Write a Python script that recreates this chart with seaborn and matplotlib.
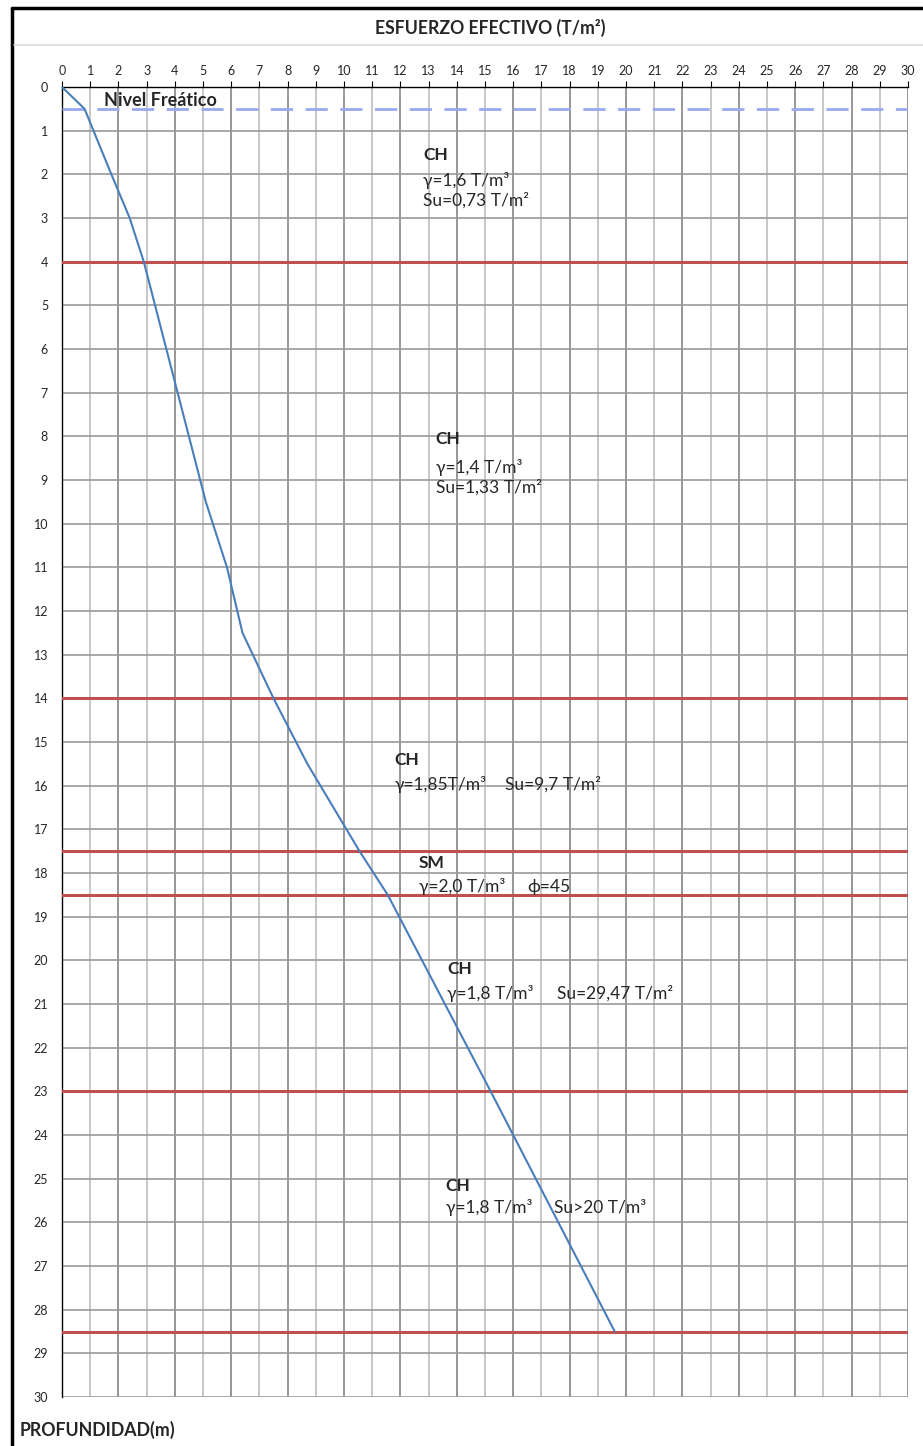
import matplotlib
matplotlib.use("Agg")
import matplotlib.pyplot as plt
from matplotlib.lines import Line2D
import seaborn as sns

# effective stress profile (T/m2) vs depth (m)
depth = [0, 0.5, 2.0, 3.0, 4.0, 9.5, 11.0, 12.5, 14.0, 15.5, 17.5, 18.5, 23.0, 28.5]
stress = [0, 0.8, 1.75, 2.4, 2.9, 5.1, 5.85, 6.4, 7.5, 8.7, 10.55, 11.55, 15.2, 19.6]

water_table = 0.5
layer_bounds = [4, 14, 17.5, 18.5, 23, 28.5]

# soil layer notes: x, title y, title, description pieces (text, x, y)
note_x = [12.8, 13.25, 11.8, 12.65, 13.65, 13.6]
note_title_y = [1.56, 8.05, 15.41, 17.77, 20.2, 25.17]
note_titles = ["CH", "CH", "CH", "SM", "CH", "CH"]
note_pieces = [
    [("γ=1,6 T/m³", 12.8, 2.13), ("Su=0,73 T/m²", 12.8, 2.59)],
    [("γ=1,4 T/m³", 13.25, 8.72), ("Su=1,33 T/m²", 13.25, 9.16)],
    [("γ=1,85T/m³", 11.8, 15.98), ("Su=9,7 T/m²", 15.7, 15.98)],
    [("γ=2,0 T/m³", 12.65, 18.32), ("ϕ=45", 16.5, 18.32)],
    [("γ=1,8 T/m³", 13.65, 20.75), ("Su=29,47 T/m²", 17.55, 20.75)],
    [("γ=1,8 T/m³", 13.6, 25.67), ("Su>20 T/m³", 17.45, 25.67)],
]

sns.set_style("white")
plt.rcParams["font.family"] = ["Lato", "DejaVu Sans"]

fig = plt.figure(figsize=(9.23, 14.46), dpi=100)
ax = fig.add_axes([62 / 923, 1 - 1397 / 1446, 846 / 923, 1310 / 1446])

# layer boundaries
for b in layer_bounds:
    ax.axhline(b, color="#c0504d", lw=2.2, zorder=3)

# water table
ax.axhline(water_table, color="#99a9f0", lw=2.0, ls=(0, (8, 4.5)), zorder=3)
ax.text(1.5, 0.3, "Nivel Freático", fontsize=13, fontweight="bold",
        va="center", ha="left", zorder=4)

sns.lineplot(x=stress, y=depth, sort=False, ax=ax, color="#4a7ebb", lw=1.5, zorder=5)

for x, ty, title, pieces in zip(note_x, note_title_y, note_titles, note_pieces):
    ax.text(x, ty, title, fontsize=12.5, fontweight="bold", va="center", ha="left", zorder=6)
    for txt, px, py in pieces:
        ax.text(px, py, txt, fontsize=12.5, va="center", ha="left", zorder=6)

ax.set_xlim(0, 30)
ax.set_ylim(30, 0)
ax.set_xticks(range(0, 31))
ax.set_yticks(range(0, 31))
ax.xaxis.tick_top()
ax.tick_params(axis="both", labelsize=9, length=4, width=0.8, color="black",
               direction="out", pad=6)
ax.tick_params(axis="x", pad=3)
ax.grid(True, lw=1.2)
for i, gl in enumerate(ax.get_xgridlines()):
    gl.set_color("#858585" if i % 2 == 0 else "#bdbdbd")
for gl in ax.get_ygridlines():
    gl.set_color("#9a9a9a")
ax.set_xlabel("")
ax.set_ylabel("")
for side in ["right", "bottom"]:
    ax.spines[side].set_visible(False)
for side in ["top", "left"]:
    ax.spines[side].set_color("black")
    ax.spines[side].set_linewidth(1.0)

# chart frame and title band
fig.add_artist(Line2D([12 / 923, 12 / 923], [0, 1 - 8 / 1446], color="black", lw=2.5))
fig.add_artist(Line2D([12 / 923, 1], [1 - 8 / 1446, 1 - 8 / 1446], color="black", lw=2.5))
fig.add_artist(Line2D([14 / 923, 1], [1 - 45 / 1446, 1 - 45 / 1446], color="#d9d9d9", lw=1.2))
fig.text(490 / 923, 1 - 28 / 1446, "ESFUERZO EFECTIVO (T/m²)", fontsize=12.7,
         fontweight="bold", ha="center", va="center")
fig.text(20 / 923, 1 - 1430 / 1446, "PROFUNDIDAD(m)", fontsize=12.8,
         fontweight="bold", ha="left", va="center")

fig.savefig("out.png", dpi=100)
